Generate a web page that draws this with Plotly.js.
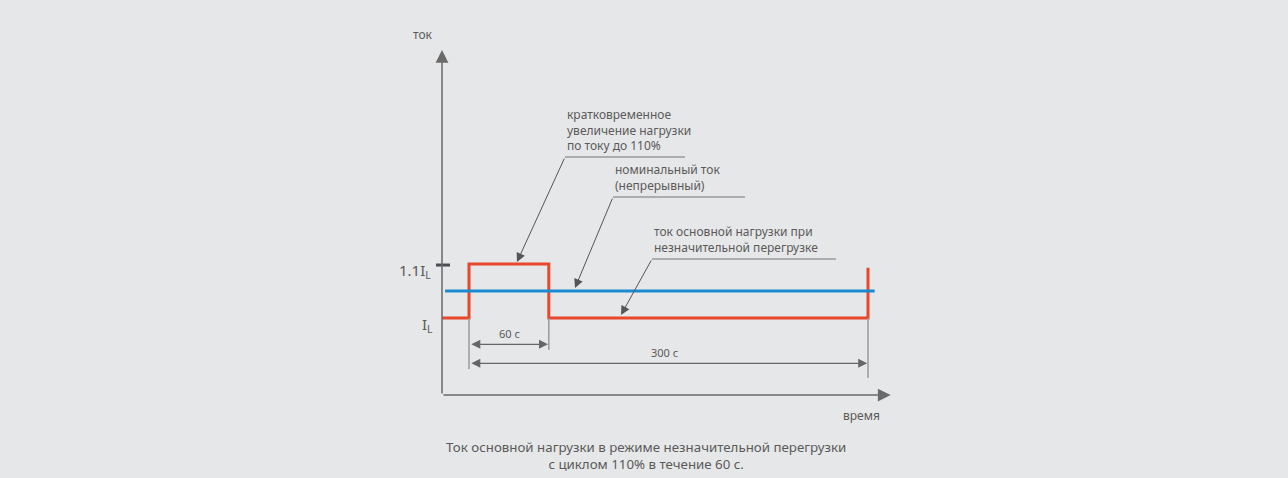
<!DOCTYPE html>
<html>
<head>
<meta charset="utf-8">
<script src="https://cdn.plot.ly/plotly-3.0.1.min.js"></script>
<style>html,body{margin:0;padding:0;background:#e6e7e8;}#chart{width:1288px;height:478px;}</style>
</head>
<body>
<div id="chart"></div>
<script>
// ---- data (time in seconds, current in units of I_L) ----
const loadTime    = [-20.3, 0, 0, 60, 60, 300, 300];
const loadCurrent = [1.0, 1.0, 1.1, 1.1, 1.0, 1.0, 1.093];
const nominalTime    = [-18, 305];
const nominalCurrent = [1.05, 1.05];
const levelValues = [1.1, 1.0];
const levelLabels = ['1.1I<sub>L</sub>', 'I<sub>L</sub>'];
const durations = [60, 300];
const durationLabels = ['60 с', '300 с'];
const axisTitles = ['ток', 'время'];
const calloutTexts = [
  'кратковременное<br>увеличение нагрузки<br>по току до 110%',
  'номинальный ток<br>(непрерывный)',
  'ток основной нагрузки при<br>незначительной перегрузке'
];
const captionText = 'Ток основной нагрузки в режиме незначительной перегрузки<br>с циклом 110% в течение 60 с.';

// ---- layout helpers ----
const TXT = '#5a5a5a', DARK = '#4d4d4d', GREY = '#9a9a9a';
const FONT = 'Noto Sans, Open Sans, sans-serif';
const axX = -20.3, axY = 0.8574;

const traces = [
  {x: loadTime, y: loadCurrent, mode: 'lines', line: {color: '#e8472b', width: 3}, hoverinfo: 'skip'},
  {x: nominalTime, y: nominalCurrent, mode: 'lines', line: {color: '#1a8ad3', width: 3}, hoverinfo: 'skip'}
];

const shapes = [];
const annotations = [];

// axes with arrows
annotations.push({x: axX, y: 1.4963, ax: axX, ay: axY, xref: 'x', yref: 'y', axref: 'x', ayref: 'y',
  text: '', showarrow: true, arrowhead: 2, arrowsize: 1.7, arrowwidth: 1.5, arrowcolor: '#6a6a6a'});
annotations.push({x: 317, y: axY, ax: axX, ay: axY, xref: 'x', yref: 'y', axref: 'x', ayref: 'y',
  text: '', showarrow: true, arrowhead: 2, arrowsize: 1.7, arrowwidth: 1.5, arrowcolor: '#6a6a6a'});
annotations.push({x: -34.6, y: 1.5259, text: axisTitles[0], showarrow: false, font: {family: FONT, size: 12, color: TXT}});
annotations.push({x: 295.2, y: 0.819, text: axisTitles[1], showarrow: false, font: {family: FONT, size: 12, color: TXT}});

// level tick + labels
shapes.push({type: 'line', xref: 'x', yref: 'y', x0: -24.8, x1: -14.3, y0: 1.0981, y1: 1.0981, line: {color: DARK, width: 3}});
annotations.push({x: -26.8, y: levelValues[0] - 0.013, xanchor: 'right', yanchor: 'middle', text: levelLabels[0], showarrow: false,
  font: {family: FONT, size: 15, color: TXT}});
annotations.push({x: -25.2, y: levelValues[1] - 0.013, xanchor: 'right', yanchor: 'middle', text: levelLabels[1], showarrow: false,
  font: {family: FONT, size: 15, color: TXT}});

// dimension extension lines
const extBottoms = [0.9056, 0.9407, 0.8889];
[0, durations[0], durations[1]].forEach((t, i) => {
  shapes.push({type: 'line', xref: 'x', yref: 'y', x0: t, x1: t, y0: 1.0, y1: extBottoms[i], line: {color: GREY, width: 1.5}});
});
// dimension arrows
const dimY = [0.9513, 0.9161];
durations.forEach((d, i) => {
  annotations.push({x: d - 0.6, y: dimY[i], ax: 0.6, ay: dimY[i], xref: 'x', yref: 'y', axref: 'x', ayref: 'y',
    text: '', showarrow: true, arrowside: 'end+start', arrowhead: 2, startarrowhead: 2,
    arrowsize: 1.5, startarrowsize: 1.5, arrowwidth: 1.2, arrowcolor: '#666666'});
  annotations.push({x: d / 2 + (i === 0 ? 0.5 : -3), y: dimY[i] + 0.0195, text: durationLabels[i], showarrow: false,
    yanchor: 'middle', font: {family: FONT, size: 11, color: TXT}});
});

// callouts
const callouts = [
  {tx: 72.2, ty: 1.3000, lineEnd: 162.4, lineY: 1.2981, tipX: 36.1, tipY: 1.1037},
  {tx: 108.3, ty: 1.2260, lineEnd: 207.5, lineY: 1.2241, tipX: 79.7, tipY: 1.0556},
  {tx: 137.6, ty: 1.1111, lineEnd: 275.9, lineY: 1.1093, tipX: 114.3, tipY: 1.0056}
];
callouts.forEach((c, i) => {
  annotations.push({x: c.tx, y: c.ty, xanchor: 'left', yanchor: 'bottom', align: 'left', text: calloutTexts[i],
    showarrow: false, font: {family: FONT, size: 12, color: TXT}});
  shapes.push({type: 'line', xref: 'x', yref: 'y', x0: c.tx, x1: c.lineEnd, y0: c.lineY, y1: c.lineY, line: {color: GREY, width: 1.5}});
  annotations.push({x: c.tipX, y: c.tipY, ax: c.tx, ay: c.lineY, xref: 'x', yref: 'y', axref: 'x', ayref: 'y',
    text: '', showarrow: true, arrowhead: 2, arrowsize: 1.8, arrowwidth: 1, arrowcolor: '#555555'});
});

// caption
annotations.push({x: 133.1, y: 0.7462, text: captionText, showarrow: false, align: 'center',
  font: {family: FONT, size: 13.3, color: TXT}});

const layout = {
  width: 1288, height: 478,
  margin: {l: 0, r: 0, t: 0, b: 0},
  paper_bgcolor: '#e6e7e8', plot_bgcolor: '#e6e7e8',
  showlegend: false,
  xaxis: {range: [-352.63, 615.79], visible: false, fixedrange: true},
  yaxis: {range: [0.7037, 1.5889], visible: false, fixedrange: true},
  shapes: shapes,
  annotations: annotations
};

Plotly.newPlot('chart', traces, layout, {staticPlot: true, displayModeBar: false});
</script>
</body>
</html>
